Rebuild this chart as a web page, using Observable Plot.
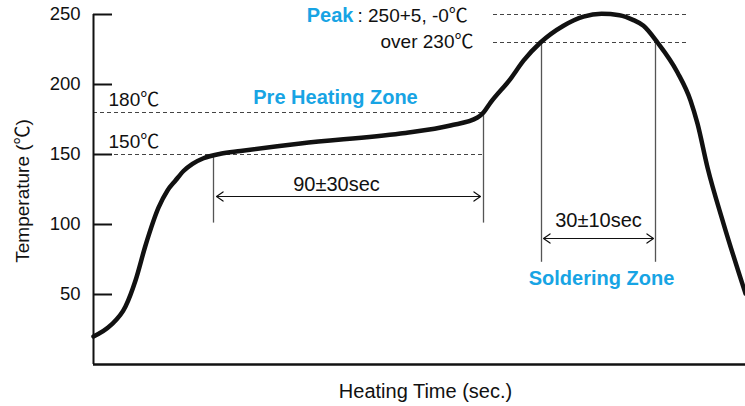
<!DOCTYPE html>
<html>
<head>
<meta charset="utf-8">
<script src="https://cdn.jsdelivr.net/npm/d3@7"></script>
<script src="https://cdn.jsdelivr.net/npm/@observablehq/plot@0.6"></script>
<style>
  html, body { margin: 0; padding: 0; background: #fff; }
  svg text { font-family: "Liberation Sans", Arial, "Noto Sans CJK JP", sans-serif; }
</style>
</head>
<body>
<div id="chart"></div>
<script>
// Reflow profile (time in arbitrary units, temperature in °C)
const time = [0, 8.5, 16, 21, 26, 32.5, 37, 41, 45, 49.5, 55, 63.5, 73.5, 103.5, 153.5, 178.5, 192, 195, 198.5, 208.5, 215, 223.5, 235, 245, 254, 263, 270, 275, 282, 292, 298.5, 302, 307, 315, 326];
const temp = [20, 27.9, 41.4, 60, 85, 112, 124.3, 131.4, 138.2, 143.3, 147.3, 150.5, 152.5, 157.9, 165, 170.7, 176.4, 180, 187, 204, 217, 230, 242, 248.5, 250.5, 249.5, 246, 242, 230, 208.6, 188.6, 172, 140.7, 100.7, 50.7];

const yTicks = [50, 100, 150, 200, 250];
const preLevels = [150, 180];        // dashed levels for pre heating
const peakLevels = [230, 250];       // dashed levels for soldering
const preZone = [60, 195];           // time bounds of pre heating zone
const solderZone = [224, 281];       // time bounds of soldering zone

const blue = "#17a4e4";
const profile = time.map((t, i) => ({t, T: temp[i]}));

const labels = [
  {t: 7.5, T: 184.3, text: "180℃", anchor: "start", color: "#111", size: 19, weight: "normal"},
  {t: 7.5, T: 154.3, text: "150℃", anchor: "start", color: "#111", size: 19, weight: "normal"},
  {t: 121, T: 186.4, text: "Pre Heating Zone", anchor: "middle", color: blue, size: 20, weight: "bold"},
  {t: 130, T: 245, text: "Peak", anchor: "end", color: blue, size: 20, weight: "bold"},
  {t: 132, T: 245, text: ": 250+5, -0℃", anchor: "start", color: "#111", size: 19, weight: "normal"},
  {t: 190, T: 226.4, text: "over 230℃", anchor: "end", color: "#111", size: 19, weight: "normal"},
  {t: 121.5, T: 123.6, text: "90±30sec", anchor: "middle", color: "#111", size: 20, weight: "normal"},
  {t: 252.5, T: 97.9, text: "30±10sec", anchor: "middle", color: "#111", size: 20, weight: "normal"},
  {t: 254, T: 57.1, text: "Soldering Zone", anchor: "middle", color: blue, size: 20, weight: "bold"},
  {t: 166, T: -23.6, text: "Heating Time (sec.)", anchor: "middle", color: "#111", size: 20, weight: "normal"}
];

const textMarks = labels.map(d => Plot.text([d], {
  x: "t", y: "T", text: "text", textAnchor: d.anchor, lineAnchor: "bottom",
  fill: d.color, fontSize: d.size, fontWeight: d.weight
}));

const arrowDefs = [
  {x1: 127.5, x2: 61.5, y: 120}, {x1: 127.5, x2: 193.5, y: 120},
  {x1: 252.5, x2: 225, y: 90}, {x1: 252.5, x2: 280, y: 90}
];

const chart = Plot.plot({
  width: 745,
  height: 406,
  marginTop: 14,
  marginBottom: 42,
  marginLeft: 93,
  marginRight: 0,
  x: {domain: [0, 326], axis: null},
  y: {domain: [0, 250]},
  style: {background: "#fff", fontFamily: "Liberation Sans, Arial, sans-serif"},
  marks: [
    // dashed reference levels
    Plot.ruleY(preLevels, {x1: 0, x2: preZone[1], stroke: "#444", strokeWidth: 1, strokeDasharray: "4,3"}),
    Plot.ruleY(peakLevels, {x1: 200, x2: 296.5, stroke: "#444", strokeWidth: 1, strokeDasharray: "4,3"}),
    // vertical zone bounds
    Plot.ruleX([preZone[0]], {y1: 150, y2: 101, stroke: "#555", strokeWidth: 1.3}),
    Plot.ruleX([preZone[1]], {y1: 180, y2: 101, stroke: "#555", strokeWidth: 1.3}),
    Plot.ruleX(solderZone, {y1: 230, y2: 73, stroke: "#555", strokeWidth: 1.3}),
    // dimension arrows
    Plot.arrow(arrowDefs, {x1: "x1", x2: "x2", y1: "y", y2: "y", headLength: 10, headAngle: 70, stroke: "#111", strokeWidth: 1.2}),
    // axes
    Plot.ruleX([0], {y1: 0, y2: 250, stroke: "#111", strokeWidth: 2}),
    Plot.ruleY([0], {x1: 0, x2: 326, stroke: "#111", strokeWidth: 2.5}),
    Plot.ruleY(yTicks, {x1: 0, x2: 9.5, stroke: "#111", strokeWidth: 2}),
    Plot.axisY(yTicks, {tickSize: 0, tickPadding: 13, fontSize: 18.5, label: null, fill: "#111"}),
    Plot.text(["Temperature (℃)"], {x: -35.5, y: 124, text: d => d, rotate: -90, fontSize: 19, fill: "#111"}),
    // profile curve
    Plot.line(profile, {x: "t", y: "T", curve: "monotone-x", stroke: "#111", strokeWidth: 4.5}),
    ...textMarks
  ]
});

document.getElementById("chart").appendChild(chart);
</script>
</body>
</html>
